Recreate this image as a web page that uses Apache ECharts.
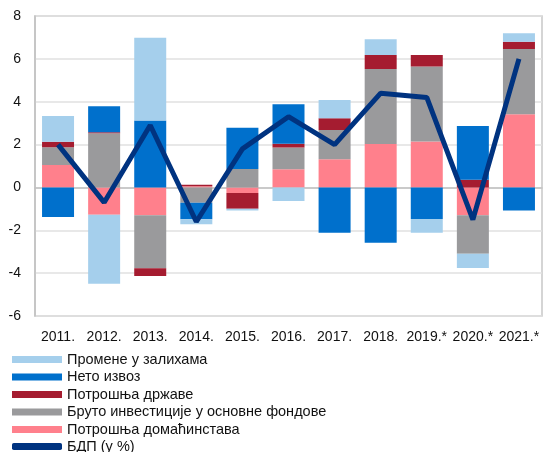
<!DOCTYPE html>
<html>
	<head>
		<meta charset="utf-8" />
		<title></title>
		<script src="https://cdn.jsdelivr.net/npm/echarts@6/dist/echarts.min.js"></script>
		<style>
			body{margin:0;background:#fff;}
			#dvchart{width:544px;height:452px;}
		</style>
	</head>
	<body>
		<div id="dvchart"></div>
		<script>
			// године
			var years = ['2011.', '2012.', '2013.', '2014.', '2015.', '2016.', '2017.', '2018.', '2019.*', '2020.*', '2021.*'];
			// доприноси расту БДП
			var households = [1.05, -1.28, -1.3, 0.05, -0.26, 0.85, 1.32, 2.03, 2.14, -1.3, 3.42];
			var investment = [0.83, 2.53, -2.47, -0.71, 0.86, 1.01, 1.36, 3.5, 3.5, -1.8, 3.04];
			var government = [0.25, 0.05, -0.36, 0.08, -0.74, 0.18, 0.55, 0.65, 0.54, 0.36, 0.34];
			var netExport = [-1.38, 1.21, 3.12, -0.77, 1.92, 1.84, -2.11, -2.58, -1.47, 2.51, -1.08];
			var inventories = [1.2, -3.22, 3.87, -0.24, -0.08, -0.63, 0.85, 0.74, -0.64, -0.66, 0.39];
			var gdp = [2.0, -0.7, 2.9, -1.6, 1.8, 3.3, 2.0, 4.4, 4.2, -1.5, 6.0];
			var yTicks = [-6, 8, 2];

			var chart1 = echarts.init(document.getElementById('dvchart'));
			var font = 'Liberation Sans, Arial, sans-serif';
			var legText = {fontSize: 14.5, color: '#111', fontFamily: font, lineHeight: 13, padding: [2, 0, 0, 0]};
			function bar(name, data, color){
				return {name: name, type: 'bar', stack: 'a', data: data, barWidth: 32,
					itemStyle: {color: color}, animation: false};
			}
			var option1 = {
				animation: false,
				textStyle: {fontFamily: font},
				grid: {left: 35, right: 2, top: 16, height: 300, show: true, borderColor: '#c8c8c8', borderWidth: 1.5},
				legend: [{
					orient: 'vertical', left: 12, top: 352, padding: 0,
					itemWidth: 50, itemHeight: 7, itemGap: 2.5, itemStyle: {borderWidth: 0},
					textStyle: legText,
					data: [
						{name: 'Промене у залихама', icon: 'rect'},
						{name: 'Нето извоз', icon: 'rect'},
						{name: 'Потрошња државе', icon: 'rect'},
						{name: 'Бруто инвестиције у основне фондове', icon: 'rect'},
						{name: 'Потрошња домаћинстава', icon: 'rect'}
					]
				}, {
					orient: 'vertical', left: 12, top: 439, padding: 0,
					itemWidth: 50, itemHeight: 7,
					textStyle: legText,
					data: [{name: 'БДП (у %)', icon: 'roundRect'}]
				}],
				xAxis: {
					type: 'category', data: years,
					axisLine: {lineStyle: {color: '#c0c0c0', width: 1.5}},
					axisTick: {length: 5, lineStyle: {color: '#c0c0c0'}},
					axisLabel: {interval: 0, color: '#111', fontSize: 14, margin: 14}
				},
				yAxis: {
					type: 'value', min: yTicks[0], max: yTicks[1], interval: yTicks[2],
					axisLine: {show: true, lineStyle: {color: '#c0c0c0', width: 1.5}},
					splitLine: {lineStyle: {color: '#e0e0e0', width: 1.5}},
					axisLabel: {color: '#111', fontSize: 14, margin: 14}
				},
				series: [
					bar('Потрошња домаћинстава', households, '#ff808c'),
					bar('Бруто инвестиције у основне фондове', investment, '#9a9a9c'),
					bar('Потрошња државе', government, '#a51c30'),
					bar('Нето извоз', netExport, '#0070cc'),
					bar('Промене у залихама', inventories, '#a5cfec'),
					{name: 'БДП (у %)', type: 'line', data: gdp, symbol: 'none', z: 5,
						lineStyle: {color: '#003380', width: 5}, itemStyle: {color: '#003380'}}
				]
			};
			chart1.setOption(option1);
		</script>
	</body>
</html>
